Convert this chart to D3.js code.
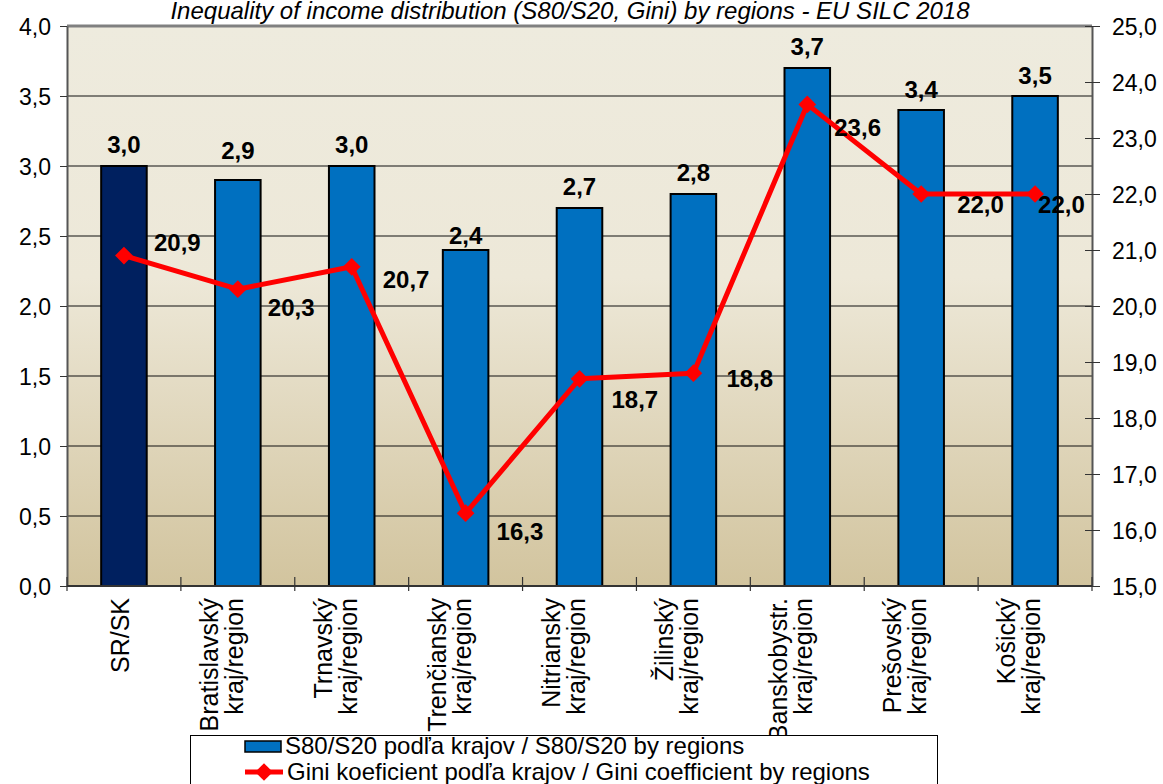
<!DOCTYPE html>
<html>
<head>
<meta charset="utf-8">
<script src="https://cdn.jsdelivr.net/npm/d3@7"></script>
<style>
  body { margin: 0; background: #fff; }
  svg text { font-family: "Liberation Sans", Arial, sans-serif; }
</style>
</head>
<body>
<div id="chart"></div>
<script>
const width = 1163;
const height = 784;

// data
var categories = ['SR/SK', 'Bratislavský\nkraj/region', 'Trnavský\nkraj/region', 'Trenčiansky\nkraj/region',
                  'Nitriansky\nkraj/region', 'Žilinský\nkraj/region', 'Banskobystr.\nkraj/region',
                  'Prešovský\nkraj/region', 'Košický\nkraj/region'];
var s80s20 = [3.0, 2.9, 3.0, 2.4, 2.7, 2.8, 3.7, 3.4, 3.5];
var gini = [20.9, 20.3, 20.7, 16.3, 18.7, 18.8, 23.6, 22.0, 22.0];
var leftTicks = [0, 0.5, 1, 1.5, 2, 2.5, 3, 3.5, 4];
var rightTicks = [15, 16, 17, 18, 19, 20, 21, 22, 23, 24, 25];

var title = 'Inequality of income distribution (S80/S20, Gini) by regions - EU SILC 2018';
var legendBar = 'S80/S20 podľa krajov / S80/S20 by regions';
var legendLine = 'Gini koeficient podľa krajov / Gini coefficient by regions';

// label nudges (as placed in the original)
var barLabelDy = [-13, -21, -13, -6, -13, -13, -13, -12, -12];
var giniLabelDx = [30, 30, 31, 31, 32, 33, 27, 36, 3];
var giniLabelDy = [-5, 27, 21, 27, 29, 14, 32, 19, 19];

const plot = {left: 67, right: 1092, top: 26, bottom: 586};
const fmt = function(d){ return d.toFixed(1).replace('.', ','); };

var svg = d3.select('#chart').append('svg')
            .attr('width', width)
            .attr('height', height);

var defs = svg.append('defs');
var grad = defs.append('linearGradient')
               .attr('id', 'bg_grad')
               .attr('x1', 0).attr('y1', 0).attr('x2', 0).attr('y2', 1);
grad.append('stop').attr('offset', '0%').attr('stop-color', '#EEEBDE');
grad.append('stop').attr('offset', '45%').attr('stop-color', '#EDE8D8');
grad.append('stop').attr('offset', '100%').attr('stop-color', '#D2C49E');

var x = d3.scaleBand()
          .domain(d3.range(categories.length))
          .range([plot.left, plot.right]);
var yL = d3.scaleLinear().domain([0, 4]).range([plot.bottom, plot.top]);
var yR = d3.scaleLinear().domain([15, 25]).range([plot.bottom, plot.top]);

// plot background
svg.append('rect')
   .attr('x', plot.left).attr('y', plot.top)
   .attr('width', plot.right - plot.left)
   .attr('height', plot.bottom - plot.top)
   .attr('fill', 'url(#bg_grad)');

// gridlines
svg.append('g')
   .selectAll('line')
   .data(leftTicks.slice(1, -1))
   .enter()
   .append('line')
   .attr('x1', plot.left).attr('x2', plot.right)
   .attr('y1', function(d){ return yL(d); })
   .attr('y2', function(d){ return yL(d); })
   .attr('stroke', '#111')
   .attr('stroke-width', 1.2);

// top border
svg.append('line')
   .attr('x1', plot.left).attr('x2', plot.right)
   .attr('y1', plot.top).attr('y2', plot.top)
   .attr('stroke', '#808080').attr('stroke-width', 3);

// left axis
var axL = svg.append('g')
             .attr('transform', 'translate(' + plot.left + ',0)')
             .call(d3.axisLeft(yL).tickValues(leftTicks).tickFormat(fmt).tickSize(7).tickSizeOuter(0));
axL.select('.domain').attr('stroke', '#555').attr('stroke-width', 2);
axL.selectAll('.tick line').attr('stroke', '#333');
axL.selectAll('.tick text')
   .attr('font-size', 23).attr('fill', '#000')
   .attr('x', -16).attr('dy', '0.35em');

// right axis
var axR = svg.append('g')
             .attr('transform', 'translate(' + plot.right + ',0)')
             .call(d3.axisRight(yR).tickValues(rightTicks).tickFormat(fmt).tickSize(8).tickSizeOuter(0));
axR.select('.domain').attr('stroke', '#555').attr('stroke-width', 2);
axR.selectAll('.tick line').attr('x1', -7).attr('stroke', '#333');
axR.selectAll('.tick text')
   .attr('font-size', 23).attr('fill', '#000')
   .attr('x', 20).attr('dy', '0.35em');

// bars
var barW = x.bandwidth() * 0.4;
svg.append('g')
   .selectAll('.bar')
   .data(s80s20)
   .enter()
   .append('rect')
   .attr('class', 'bar')
   .attr('x', function(d, i){ return x(i) + x.bandwidth() / 2 - barW / 2; })
   .attr('y', function(d){ return yL(d); })
   .attr('width', barW)
   .attr('height', function(d){ return yL(0) - yL(d); })
   .attr('fill', function(d, i){ return i == 0 ? '#00205F' : '#0070C0'; })
   .attr('stroke', '#000')
   .attr('stroke-width', 2);

// bottom axis
svg.append('line')
   .attr('x1', plot.left).attr('x2', plot.right)
   .attr('y1', plot.bottom).attr('y2', plot.bottom)
   .attr('stroke', '#333').attr('stroke-width', 2);
svg.append('g')
   .selectAll('line')
   .data(d3.range(categories.length + 1))
   .enter()
   .append('line')
   .attr('x1', function(i){ return plot.left + i * x.bandwidth(); })
   .attr('x2', function(i){ return plot.left + i * x.bandwidth(); })
   .attr('y1', plot.bottom - 9).attr('y2', plot.bottom + 5)
   .attr('stroke', '#333').attr('stroke-width', 1.2);

// x labels, rotated
var xl = svg.append('g')
            .selectAll('.xlab')
            .data(categories)
            .enter()
            .append('text')
            .attr('class', 'xlab')
            .attr('font-size', 25)
            .attr('text-anchor', 'end')
            .attr('transform', function(d, i){
                return 'translate(' + (x(i) + x.bandwidth() / 2 + 5) + ',' + 598 + ') rotate(-90)';
            });
xl.each(function(d){
    var lines = d.split('\n');
    var t = d3.select(this);
    lines.forEach(function(l, k){
        t.append('tspan')
         .attr('x', 0)
         .attr('y', (k - (lines.length - 1)) * 25)
         .text(l);
    });
});

// gini line
var line = d3.line()
             .x(function(d, i){ return x(i) + x.bandwidth() / 2; })
             .y(function(d){ return yR(d); });
svg.append('path')
   .datum(gini)
   .attr('d', line)
   .attr('fill', 'none')
   .attr('stroke', '#FF0000')
   .attr('stroke-width', 5)
   .attr('stroke-linejoin', 'round');

var diamond = d3.symbol().type(d3.symbolDiamond2).size(200);
svg.append('g')
   .selectAll('.marker')
   .data(gini)
   .enter()
   .append('path')
   .attr('class', 'marker')
   .attr('d', diamond)
   .attr('fill', '#FF0000')
   .attr('transform', function(d, i){
       return 'translate(' + (x(i) + x.bandwidth() / 2) + ',' + yR(d) + ')';
   });

// bar value labels
svg.append('g')
   .selectAll('.blab')
   .data(s80s20)
   .enter()
   .append('text')
   .attr('class', 'blab')
   .attr('x', function(d, i){ return x(i) + x.bandwidth() / 2; })
   .attr('y', function(d, i){ return yL(d) + barLabelDy[i]; })
   .attr('text-anchor', 'middle')
   .attr('font-size', 24)
   .attr('font-weight', 'bold')
   .text(fmt);

// gini value labels
svg.append('g')
   .selectAll('.glab')
   .data(gini)
   .enter()
   .append('text')
   .attr('class', 'glab')
   .attr('x', function(d, i){ return x(i) + x.bandwidth() / 2 + giniLabelDx[i]; })
   .attr('y', function(d, i){ return yR(d) + giniLabelDy[i]; })
   .attr('font-size', 24)
   .attr('font-weight', 'bold')
   .text(fmt);

// title
svg.append('text')
   .attr('x', 570).attr('y', 19)
   .attr('text-anchor', 'middle')
   .attr('font-size', 24)
   .attr('font-style', 'italic')
   .text(title);

// legend
var lg = svg.append('g');
lg.append('rect')
  .attr('x', 190.5).attr('y', 735.5)
  .attr('width', 747).attr('height', 70)
  .attr('fill', '#fff').attr('stroke', '#000').attr('stroke-width', 1);
lg.append('rect')
  .attr('x', 245).attr('y', 741)
  .attr('width', 36).attr('height', 11)
  .attr('fill', '#0070C0').attr('stroke', '#000').attr('stroke-width', 1.5);
lg.append('text')
  .attr('x', 285).attr('y', 754)
  .attr('font-size', 24)
  .text(legendBar);
lg.append('line')
  .attr('x1', 245).attr('x2', 283)
  .attr('y1', 772).attr('y2', 772)
  .attr('stroke', '#FF0000').attr('stroke-width', 5);
lg.append('path')
  .attr('d', diamond)
  .attr('fill', '#FF0000')
  .attr('transform', 'translate(264,772)');
lg.append('text')
  .attr('x', 287).attr('y', 780)
  .attr('font-size', 24)
  .text(legendLine);
</script>
</body>
</html>
